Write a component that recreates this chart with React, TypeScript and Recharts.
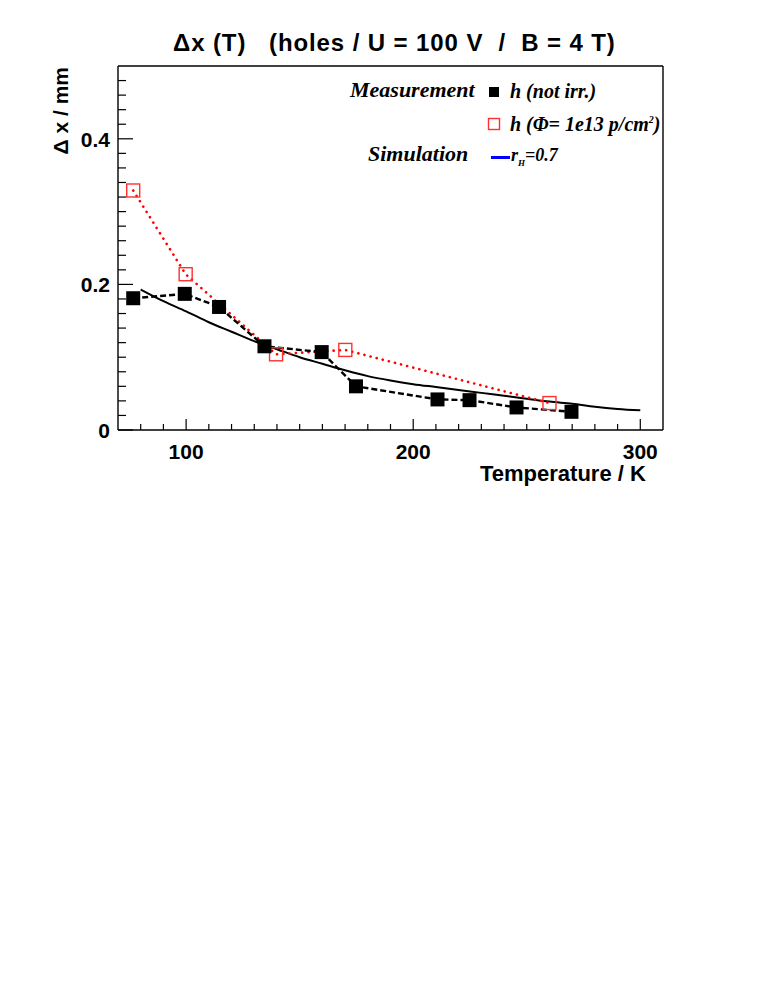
import React from 'react';
import { ComposedChart, Line, XAxis, YAxis, ReferenceLine } from 'recharts';

// measurement, not irradiated (black squares, dashed)
const measTemp = [76.7, 99.4, 114.5, 134.5, 159.7, 174.8, 210.7, 224.8, 245.5, 269.7];
const measShift = [0.181, 0.187, 0.169, 0.115, 0.107, 0.06, 0.042, 0.041, 0.031, 0.025];

// measurement, irradiated 1e13 p/cm2 (red open squares, dotted)
const irrTemp = [76.7, 99.8, 139.6, 170.1, 260.0];
const irrShift = [0.329, 0.214, 0.104, 0.11, 0.037];

// simulation r_H = 0.7
const simTemp = [80, 90, 100, 110, 120, 130, 140, 150, 160, 170, 180, 190, 200, 210, 220, 230, 240, 250, 260, 270, 280, 290, 300];
const simShift = [0.193, 0.177, 0.163, 0.148, 0.135, 0.122, 0.111, 0.1, 0.091, 0.082, 0.074, 0.068, 0.063, 0.059, 0.055, 0.051, 0.047, 0.043, 0.039, 0.036, 0.032, 0.029, 0.027];

const xTicks = [80, 90, 100, 110, 120, 130, 140, 150, 160, 170, 180, 190, 200, 210, 220, 230, 240, 250, 260, 270, 280, 290, 300];
const yTicks = [0, 0.02, 0.04, 0.06, 0.08, 0.1, 0.12, 0.14, 0.16, 0.18, 0.2, 0.22, 0.24, 0.26, 0.28, 0.3, 0.32, 0.34, 0.36, 0.38, 0.4, 0.42, 0.44, 0.46, 0.48];

const measData = measTemp.map((x, i) => ({ x, y: measShift[i] }));
const irrData = irrTemp.map((x, i) => ({ x, y: irrShift[i] }));
const simData = simTemp.map((x, i) => ({ x, y: simShift[i] }));

const sans = '"Liberation Sans", Arial, Helvetica, sans-serif';
const serif = '"Liberation Serif", "Times New Roman", serif';

const XTick = (props: any) => {
  const { x, y, payload } = props;
  const major = payload.value % 100 === 0;
  return (
    <g>
      <line x1={x} y1={y} x2={x} y2={y - (major ? 11 : 6)} stroke="#000" strokeWidth={1.2} />
      {major && (
        <text x={x} y={y + 29} textAnchor="middle" fontFamily={sans} fontWeight="bold" fontSize={21} fill="#000">
          {payload.value}
        </text>
      )}
    </g>
  );
};

const YTick = (props: any) => {
  const { x, y, payload } = props;
  const major = Math.round(payload.value * 100) % 20 === 0;
  const label = payload.value === 0 ? '0' : payload.value.toFixed(1);
  return (
    <g>
      <line x1={x} y1={y} x2={x + (major ? 15 : 8)} y2={y} stroke="#000" strokeWidth={1.2} />
      {major && (
        <text x={x - 8} y={y + 8} textAnchor="end" fontFamily={sans} fontWeight="bold" fontSize={21} fill="#000">
          {label}
        </text>
      )}
    </g>
  );
};

const FilledSquare = (props: any) => {
  const { cx, cy, index } = props;
  return <rect key={`m-${index}`} x={cx - 7} y={cy - 7} width={14} height={14} fill="#000" />;
};

const OpenSquare = (props: any) => {
  const { cx, cy, index } = props;
  return <rect key={`r-${index}`} x={cx - 6.5} y={cy - 6.5} width={13} height={13} fill="none" stroke="#ff3030" strokeWidth={1.4} />;
};

const abs = (left: number, top: number): React.CSSProperties => ({
  position: 'absolute',
  left,
  top,
  whiteSpace: 'pre',
  lineHeight: 1,
});

const legendText: React.CSSProperties = { fontFamily: serif, fontWeight: 'bold', fontStyle: 'italic' };

export default function App() {
  return (
    <div style={{ position: 'absolute', left: 0, top: 0, width: 763, height: 987, background: '#fff' }}>
      <ComposedChart width={763} height={500} margin={{ top: 66, right: 100, bottom: 40, left: 58 }}>
        <XAxis
          dataKey="x"
          type="number"
          domain={[70, 310]}
          ticks={xTicks}
          interval={0}
          allowDataOverflow
          height={30}
          tickSize={0}
          tickMargin={0}
          tick={<XTick />}
          axisLine={{ stroke: '#000', strokeWidth: 1.4 }}
        />
        <YAxis
          dataKey="y"
          type="number"
          domain={[0, 0.5]}
          ticks={yTicks}
          interval={0}
          allowDataOverflow
          width={60}
          tickSize={0}
          tickMargin={0}
          tick={<YTick />}
          axisLine={{ stroke: '#000', strokeWidth: 1.4 }}
        />
        <ReferenceLine y={0.5} stroke="#000" strokeWidth={1.4} />
        <ReferenceLine x={310} stroke="#000" strokeWidth={1.4} />
        <Line
          data={simData}
          dataKey="y"
          type="monotone"
          stroke="#000"
          strokeWidth={2}
          dot={false}
          isAnimationActive={false}
        />
        <Line
          data={irrData}
          dataKey="y"
          type="linear"
          stroke="#ff0000"
          strokeWidth={2.6}
          strokeDasharray="0.1 6.2"
          strokeLinecap="round"
          dot={<OpenSquare />}
          isAnimationActive={false}
        />
        <Line
          data={measData}
          dataKey="y"
          type="linear"
          stroke="#000"
          strokeWidth={2.4}
          strokeDasharray="6 3"
          dot={<FilledSquare />}
          isAnimationActive={false}
        />
      </ComposedChart>

      {/* title */}
      <div style={{ ...abs(173, 31), fontFamily: sans, fontWeight: 'bold', fontSize: 24, letterSpacing: 0.9 }}>
        {'Δx (T)   (holes / U = 100 V  /  B = 4 T)'}
      </div>

      {/* y axis title */}
      <div
        style={{
          ...abs(50, 67),
          fontFamily: sans,
          fontWeight: 'bold',
          fontSize: 21,
          transformOrigin: '0 0',
          transform: 'rotate(-90deg) translateX(-100%)',
        }}
      >
        {'Δ x / mm'}
      </div>

      {/* x axis title */}
      <div style={{ ...abs(480, 463), fontFamily: sans, fontWeight: 'bold', fontSize: 22 }}>Temperature / K</div>

      {/* legend */}
      <div style={{ ...abs(350, 79), ...legendText, fontSize: 22 }}>Measurement</div>
      <div style={{ position: 'absolute', left: 489, top: 87, width: 10, height: 10, background: '#000' }} />
      <div style={{ ...abs(510, 81), ...legendText, fontSize: 20 }}>h (not irr.)</div>

      <svg style={{ position: 'absolute', left: 487, top: 117 }} width={14} height={14}>
        <rect x={1.5} y={1.5} width={11} height={11} fill="none" stroke="#ff3030" strokeWidth={1.4} />
      </svg>
      <div style={{ ...abs(510, 114), ...legendText, fontSize: 20 }}>
        h (Φ= 1e13 p/cm<sup style={{ fontSize: 10 }}>2</sup>)
      </div>

      <div style={{ ...abs(368, 143), ...legendText, fontSize: 22 }}>Simulation</div>
      <div style={{ position: 'absolute', left: 491, top: 156, width: 19, height: 2.5, background: '#0000ff' }} />
      <div style={{ ...abs(511, 146), ...legendText, fontSize: 18 }}>
        r<sub style={{ fontSize: 9 }}>H</sub>=0.7
      </div>
    </div>
  );
}
